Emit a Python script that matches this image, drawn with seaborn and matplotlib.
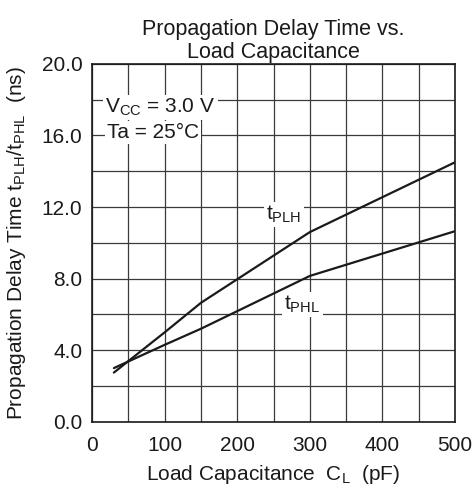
import matplotlib
matplotlib.use("Agg")
import matplotlib.pyplot as plt
import pandas as pd
import seaborn as sns

# values
load_pf = [30, 100, 150, 300, 500]
t_plh = [2.75, 5.0, 6.65, 10.6, 14.5]
t_phl = [3.0, 4.3, 5.2, 8.15, 10.65]

x_ticks = [0, 100, 200, 300, 400, 500]
y_ticks = [0.0, 4.0, 8.0, 12.0, 16.0, 20.0]

df = pd.DataFrame({
    "load": load_pf * 2,
    "delay": t_plh + t_phl,
    "series": ["tPLH"] * len(load_pf) + ["tPHL"] * len(load_pf),
})

sns.set_theme(style="white")
plt.rcParams["font.family"] = ["Liberation Sans", "DejaVu Sans"]
plt.rcParams["mathtext.fontset"] = "custom"
plt.rcParams["mathtext.rm"] = "Liberation Sans"
plt.rcParams["mathtext.it"] = "Liberation Sans"
plt.rcParams["mathtext.default"] = "regular"

ink = "#1a1a1a"
fig, ax = plt.subplots(figsize=(4.75, 4.91), dpi=100)
fig.subplots_adjust(left=0.194, right=0.958, top=0.870, bottom=0.141)

sns.lineplot(data=df, x="load", y="delay", units="series", estimator=None,
             color=ink, linewidth=1.6, ax=ax, legend=False)

ax.set_xlim(0, 500)
ax.set_ylim(0, 20)
ax.set_xticks(x_ticks)
ax.set_yticks(y_ticks)
ax.set_yticklabels([f"{v:.1f}" for v in y_ticks])
ax.set_xticks(range(0, 501, 50), minor=True)
ax.set_yticks(range(0, 21, 2), minor=True)
ax.grid(True, which="both", color="#3a3a3a", linewidth=0.9)
ax.tick_params(axis="both", which="both", length=0, labelsize=15, colors=ink)
ax.tick_params(axis="y", pad=7)
ax.tick_params(axis="x", pad=10)
for s in ax.spines.values():
    s.set_color(ink)
    s.set_linewidth(1.2)

ax.set_title("Propagation Delay Time vs.\nLoad Capacitance", fontsize=15.5,
             color=ink, linespacing=1.15, pad=4)
ax.set_xlabel("Load Capacitance  C$_L$  (pF)", fontsize=15, color=ink, labelpad=6)
ax.set_ylabel("Propagation Delay Time t$_{PLH}$/t$_{PHL}$  (ns)", fontsize=15,
              color=ink, labelpad=9.5)

box = dict(facecolor="white", edgecolor="none", pad=1.5)
ax.text(18, 17.26, "V$_{CC}$ = 3.0 V", fontsize=15, color=ink,
        va="baseline", ha="left", bbox=box)
ax.text(20, 15.87, "Ta = 25°C", fontsize=15, color=ink,
        va="baseline", ha="left", bbox=box)
ax.text(240, 11.28, "t$_{PLH}$", fontsize=15, color=ink, va="baseline",
        ha="left", bbox=box)
ax.text(265, 6.26, "t$_{PHL}$", fontsize=15, color=ink, va="baseline",
        ha="left", bbox=box)

fig.savefig("out.png", dpi=100)
